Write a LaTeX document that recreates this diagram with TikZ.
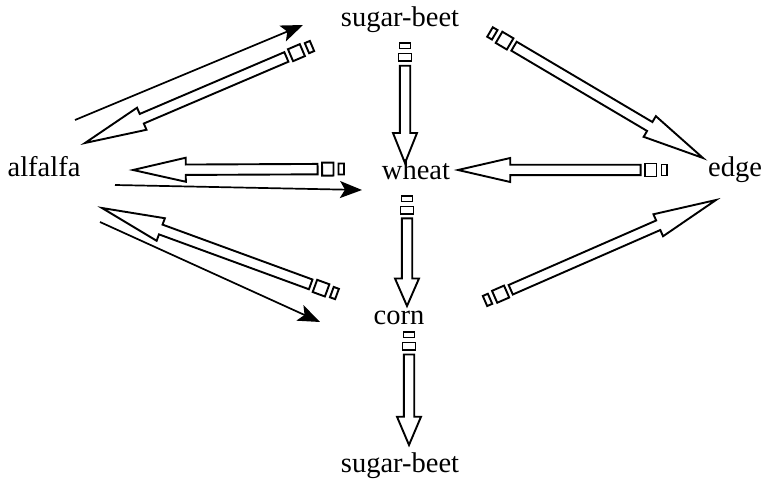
\documentclass[tikz,border=0pt]{standalone}
\usepackage{fontspec}
\setmainfont{Liberation Serif}
\usetikzlibrary{arrows.meta}

% hollow arrow with two little boxes at its tail
\newcommand{\hollowarrow}[2]{%
  \path (#1); \pgfgetlastxy{\hax}{\hay}%
  \path (#2); \pgfgetlastxy{\hbx}{\hby}%
  \pgfmathsetmacro{\hang}{atan2(\hby-\hay,\hbx-\hax)}%
  \pgfmathsetmacro{\hlen}{veclen(\hbx-\hax,\hby-\hay)}%
  \pgfmathsetmacro{\hsq}{3+0.04*\hlen}%
  \pgfmathsetmacro{\hsh}{10.5+\hsq+4.5}%
  \pgfmathsetmacro{\hhd}{0.75*\hlen}%
  \begin{scope}[shift={(\hax,\hay)}, rotate=\hang, hollow]
    \draw (0,-5.5) rectangle (5.5,5.5);
    \draw (10.5,-6.5) rectangle (10.5+\hsq,6.5);
    \draw (\hsh,-5.2) -- (\hhd,-5.2) -- (\hhd,-12) -- (\hlen,0)
      -- (\hhd,12) -- (\hhd,5.2) -- (\hsh,5.2) -- cycle;
  \end{scope}}

\tikzset{
  term/.style={font=\fontsize{28.5}{30}\selectfont, inner sep=0pt},
  flow/.style={line width=1.7pt, -{Stealth[length=22pt,width=17pt,inset=5pt]}},
  hollow/.style={line width=1.9pt, line join=miter, miter limit=20},
}

\begin{document}
\begin{tikzpicture}[x=1pt,y=-1pt]
\useasboundingbox (0,0) rectangle (768,481);

\node[term] (alf)  at (44,167)  {alfalfa};
\node[term] (sbt)  at (400,20)  {sugar-beet};
\node[term] (wht)  at (416,170) {wheat};
\node[term] (edg)  at (735,170) {edge};
\node[term] (crn)  at (399,318) {corn};
\node[term] (sbb)  at (400,466) {sugar-beet};

% ends of the connectors
\coordinate (alf-sbt) at (75,120);   \coordinate (sbt-in)  at (303,25);
\coordinate (alf-wht) at (115,185);  \coordinate (wht-in)  at (362,190);
\coordinate (alf-crn) at (100,222);  \coordinate (crn-in)  at (320,322);
\coordinate (sbt-alf) at (312,46);   \coordinate (alf-in1) at (85,143);
\coordinate (wht-alf) at (344,169);  \coordinate (alf-in2) at (133,170);
\coordinate (crn-alf) at (337,294);  \coordinate (alf-in3) at (102,208);
\coordinate (sbt-wht) at (405,43);   \coordinate (wht-in2) at (405,163);
\coordinate (sbt-edg) at (490,32);   \coordinate (edg-in1) at (703,158);
\coordinate (edg-wht) at (667,170);  \coordinate (wht-in3) at (458,170);
\coordinate (crn-edg) at (485,301);  \coordinate (edg-in2) at (716,200);
\coordinate (wht-crn) at (407,196);  \coordinate (crn-in2) at (407,306);
\coordinate (crn-sbb) at (409,332);  \coordinate (sbb-in)  at (409,445);

\draw[flow] (alf-sbt) -- (sbt-in);
\draw[flow] (alf-wht) -- (wht-in);
\draw[flow] (alf-crn) -- (crn-in);

\hollowarrow{sbt-alf}{alf-in1}
\hollowarrow{wht-alf}{alf-in2}
\hollowarrow{crn-alf}{alf-in3}
\hollowarrow{sbt-wht}{wht-in2}
\hollowarrow{sbt-edg}{edg-in1}
\hollowarrow{edg-wht}{wht-in3}
\hollowarrow{crn-edg}{edg-in2}
\hollowarrow{wht-crn}{crn-in2}
\hollowarrow{crn-sbb}{sbb-in}
\end{tikzpicture}
\end{document}
